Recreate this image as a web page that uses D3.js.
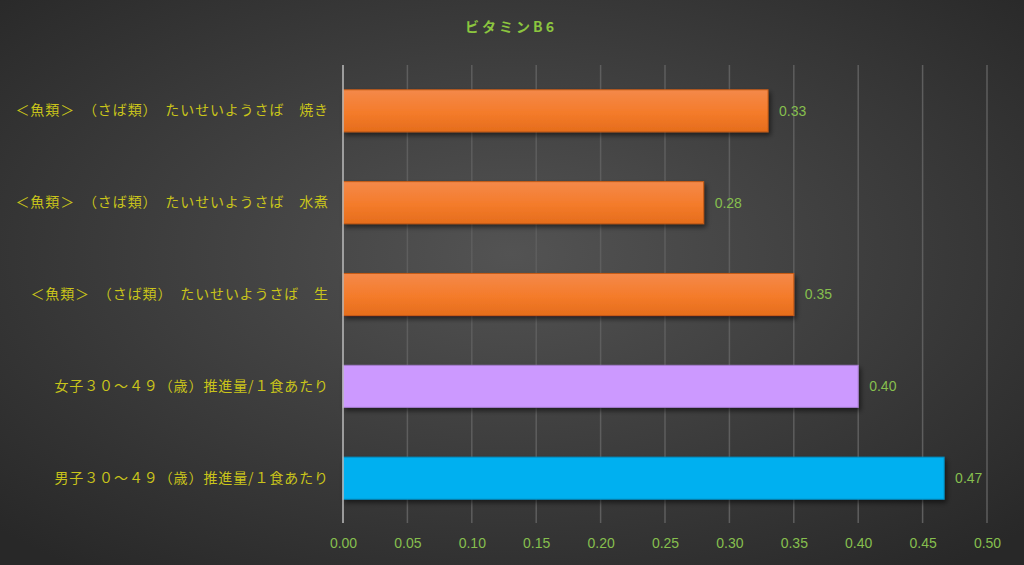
<!DOCTYPE html>
<html>
<head>
<meta charset="utf-8">
<script src="https://cdn.jsdelivr.net/npm/d3@7"></script>
<style>
  body { margin: 0; background: #333; }
  svg { display: block; }
</style>
</head>
<body>
<div id="chart"></div>
<script>
// chart data
var categories = [
  "＜魚類＞　（さば類）　たいせいようさば　焼き",
  "＜魚類＞　（さば類）　たいせいようさば　水煮",
  "＜魚類＞　（さば類）　たいせいようさば　生",
  "女子３０～４９（歳）推進量/１食あたり",
  "男子３０～４９（歳）推進量/１食あたり"
];
var values = [0.33, 0.28, 0.35, 0.40, 0.4667];
var valueLabels = ["0.33", "0.28", "0.35", "0.40", "0.47"];
var barColors = ["orange", "orange", "orange", "#cc99ff", "#00b0f0"];
var xTicks = [0, 0.05, 0.10, 0.15, 0.20, 0.25, 0.30, 0.35, 0.40, 0.45, 0.50];

var width = 1024, height = 565;
var plotLeft = 343, plotRight = 987, plotTop = 65, plotBottom = 523;

var svg = d3.select("#chart").append("svg")
    .attr("width", width)
    .attr("height", height);

var defs = svg.append("defs");
var bg = defs.append("radialGradient").attr("id", "bg")
    .attr("cx", "50%").attr("cy", "45%").attr("r", "70%");
bg.append("stop").attr("offset", "0%").attr("stop-color", "#535353");
bg.append("stop").attr("offset", "100%").attr("stop-color", "#282828");

var og = defs.append("linearGradient").attr("id", "orange")
    .attr("x1", 0).attr("y1", 0).attr("x2", 0).attr("y2", 1);
og.append("stop").attr("offset", "0%").attr("stop-color", "#f4894a");
og.append("stop").attr("offset", "55%").attr("stop-color", "#f47b2a");
og.append("stop").attr("offset", "100%").attr("stop-color", "#e56d1c");

var sh = defs.append("filter").attr("id", "shadow")
    .attr("x", "-5%").attr("y", "-20%").attr("width", "115%").attr("height", "160%");
sh.append("feDropShadow").attr("dx", 2).attr("dy", 3).attr("stdDeviation", 2.5)
    .attr("flood-color", "#000").attr("flood-opacity", 0.55);

svg.append("rect").attr("width", width).attr("height", height).attr("fill", "url(#bg)");

var x = d3.scaleLinear().domain([0, 0.5]).range([plotLeft, plotRight]);
var y = d3.scaleBand().domain(categories).range([plotTop, plotBottom + 1]).paddingInner(0.542).paddingOuter(0.27);

// gridlines
svg.append("g").selectAll("line")
  .data(xTicks.slice(1))
  .enter().append("line")
  .attr("x1", function(d) { return x(d); })
  .attr("x2", function(d) { return x(d); })
  .attr("y1", plotTop)
  .attr("y2", plotBottom)
  .attr("stroke", "#5e5e5e")
  .attr("stroke-width", 1.5);

// bottom axis (labels only)
var xAxis = svg.append("g")
  .attr("transform", "translate(0," + plotBottom + ")")
  .call(d3.axisBottom(x).tickValues(xTicks).tickFormat(d3.format(".2f")).tickSize(0).tickPadding(15));
xAxis.select(".domain").remove();
xAxis.selectAll("text")
  .attr("fill", "#86bf4e")
  .style("font-family", "'Liberation Sans Narrow', 'Liberation Sans', sans-serif")
  .style("font-size", "14px");

// bars
svg.append("g").selectAll("rect")
  .data(values)
  .enter().append("rect")
  .attr("x", x(0))
  .attr("y", function(d, i) { return y(categories[i]); })
  .attr("width", function(d) { return x(d) - x(0); })
  .attr("height", y.bandwidth())
  .attr("fill", function(d, i) { return barColors[i] === "orange" ? "url(#orange)" : barColors[i]; })
  .attr("stroke", function(d, i) { return barColors[i] === "orange" ? "#c85c14" : d3.color(barColors[i]).darker(0.6); })
  .attr("stroke-width", 1)
  .attr("filter", "url(#shadow)");

// value labels
svg.append("g").selectAll("text")
  .data(values)
  .enter().append("text")
  .attr("x", function(d) { return x(d) + 11; })
  .attr("y", function(d, i) { return y(categories[i]) + y.bandwidth() / 2; })
  .attr("dy", "0.35em")
  .attr("fill", "#86bf4e")
  .style("font-family", "'Liberation Sans Narrow', 'Liberation Sans', sans-serif")
  .style("font-size", "14px")
  .text(function(d, i) { return valueLabels[i]; });

// category labels
var yAxis = svg.append("g")
  .attr("transform", "translate(" + plotLeft + ",0)")
  .call(d3.axisLeft(y).tickSize(0).tickPadding(14));
yAxis.select(".domain").attr("stroke", "#bdbdbd").attr("stroke-width", 1.5)
  .attr("d", "M0," + plotTop + "V" + plotBottom);
yAxis.selectAll("text")
  .attr("fill", "#c9c41a")
  .style("font-family", "'Noto Sans CJK JP', sans-serif")
  .style("font-size", "14px")
  .style("letter-spacing", "0.9px");

// title
svg.append("text")
  .attr("x", 511)
  .attr("y", 32)
  .attr("text-anchor", "middle")
  .attr("fill", "#8cc63f")
  .style("font-family", "'Noto Sans CJK JP', sans-serif")
  .style("font-weight", "bold")
  .style("font-size", "14px")
  .style("letter-spacing", "3px")
  .text("ビタミンB6");
</script>
</body>
</html>
